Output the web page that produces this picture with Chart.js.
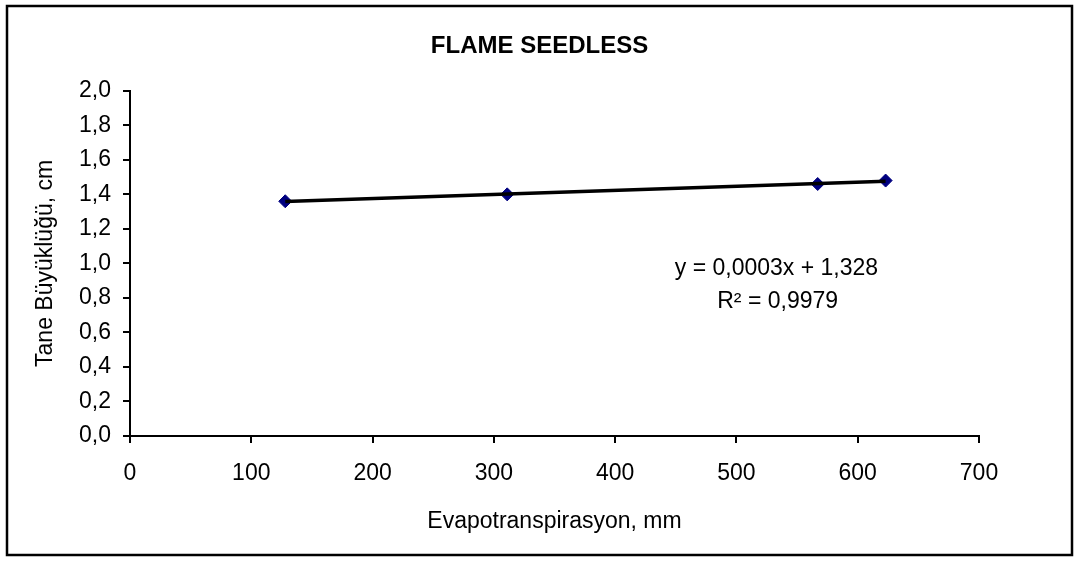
<!DOCTYPE html>
<html>
<head>
<meta charset="utf-8">
<script src="https://cdn.jsdelivr.net/npm/chart.js@4/dist/chart.umd.min.js"></script>
<style>
  html, body { margin: 0; padding: 0; background: #fff; }
  canvas { display: block; }
</style>
</head>
<body>
<canvas id="chart" width="1079" height="561"></canvas>
<script>
// values
const evapo = [128, 311, 567, 623];
const taneSize = [1.36, 1.40, 1.46, 1.48];
const yTicks = [0, 0.2, 0.4, 0.6, 0.8, 1.0, 1.2, 1.4, 1.6, 1.8, 2.0];
const xTicks = [0, 100, 200, 300, 400, 500, 600, 700];
const eqLines = ["y = 0,0003x + 1,328", "R² = 0,9979"];

const FONT = "'Liberation Sans', Arial, sans-serif";

// least squares fit for the trendline
function linFit(xs, ys) {
  const n = xs.length;
  const mx = xs.reduce((a, b) => a + b, 0) / n;
  const my = ys.reduce((a, b) => a + b, 0) / n;
  let sxy = 0, sxx = 0;
  for (let i = 0; i < n; i++) {
    sxy += (xs[i] - mx) * (ys[i] - my);
    sxx += (xs[i] - mx) * (xs[i] - mx);
  }
  const b = sxy / sxx;
  return { b, a: my - b * mx };
}
const fit = linFit(evapo, taneSize);
const xMin = Math.min(...evapo), xMax = Math.max(...evapo);
const trend = [
  { x: xMin, y: fit.a + fit.b * xMin },
  { x: xMax, y: fit.a + fit.b * xMax },
];
const points = evapo.map((x, i) => ({ x, y: taneSize[i] }));

const frame = {
  id: "frame",
  beforeDraw(chart) {
    const ctx = chart.ctx;
    ctx.save();
    ctx.fillStyle = "#fff";
    ctx.fillRect(0, 0, chart.width, chart.height);
    ctx.strokeStyle = "#000";
    ctx.lineWidth = 2.5;
    ctx.strokeRect(7, 6, 1065, 549);
    ctx.restore();
  },
};

const equation = {
  id: "equation",
  afterDatasetsDraw(chart) {
    const { ctx, scales } = chart;
    ctx.save();
    ctx.fillStyle = "#000";
    ctx.font = "23px " + FONT;
    ctx.textAlign = "center";
    ctx.textBaseline = "middle";
    ctx.fillText(eqLines[0], scales.x.getPixelForValue(533), scales.y.getPixelForValue(0.97));
    ctx.fillText(eqLines[1], scales.x.getPixelForValue(534), scales.y.getPixelForValue(0.78));
    ctx.restore();
  },
};

new Chart(document.getElementById("chart"), {
  type: "scatter",
  data: {
    datasets: [
      {
        label: "trend",
        data: trend,
        showLine: true,
        borderColor: "#000",
        borderWidth: 3.5,
        pointRadius: 0,
        fill: false,
      },
      {
        label: "FLAME SEEDLESS",
        data: points,
        pointStyle: "rectRot",
        pointRadius: 6.5,
        pointBackgroundColor: "#000080",
        pointBorderColor: "#000080",
        pointBorderWidth: 1,
      },
    ],
  },
  options: {
    responsive: false,
    animation: false,
    layout: { padding: { left: 24, right: 24, top: 12, bottom: 20 } },
    plugins: {
      legend: { display: false },
      tooltip: { enabled: false },
      title: {
        display: true,
        text: "FLAME SEEDLESS",
        color: "#000",
        font: { family: FONT, size: 24, weight: "bold" },
        padding: { top: 20, bottom: 30 },
      },
    },
    scales: {
      x: {
        type: "linear",
        min: 0,
        max: 700,
        afterBuildTicks: (s) => { s.ticks = xTicks.map((v) => ({ value: v })); },
        afterFit: (s) => { s.height = 105; },
        ticks: {
          color: "#000",
          font: { family: FONT, size: 23 },
          padding: 17,
          maxRotation: 0,
        },
        grid: { drawOnChartArea: false, drawTicks: true, tickLength: 7, color: "#000", lineWidth: 2 },
        border: { display: true, color: "#000", width: 2 },
        title: {
          display: true,
          text: "Evapotranspirasyon, mm",
          color: "#000",
          font: { family: FONT, size: 23 },
          padding: { top: 0, bottom: 6 },
        },
      },
      y: {
        type: "linear",
        min: 0,
        max: 2,
        afterBuildTicks: (s) => { s.ticks = yTicks.map((v) => ({ value: v })); },
        afterFit: (s) => { s.width = 106; },
        ticks: {
          color: "#000",
          font: { family: FONT, size: 23 },
          padding: 12,
          callback: (v) => v.toFixed(1).replace(".", ","),
        },
        grid: { drawOnChartArea: false, drawTicks: true, tickLength: 7, color: "#000", lineWidth: 2 },
        border: { display: true, color: "#000", width: 2 },
        title: {
          display: true,
          text: "Tane Büyüklüğü, cm",
          color: "#000",
          font: { family: FONT, size: 23 },
          padding: { top: 8, bottom: 0 },
        },
      },
      // empty right-hand space so the chart area ends where the reference's does
      yRight: {
        type: "linear",
        position: "right",
        min: 0,
        max: 2,
        afterFit: (s) => { s.width = 76; },
        ticks: { display: false },
        grid: { display: false },
        border: { display: false },
      },
    },
  },
  plugins: [frame, equation],
});
</script>
</body>
</html>
